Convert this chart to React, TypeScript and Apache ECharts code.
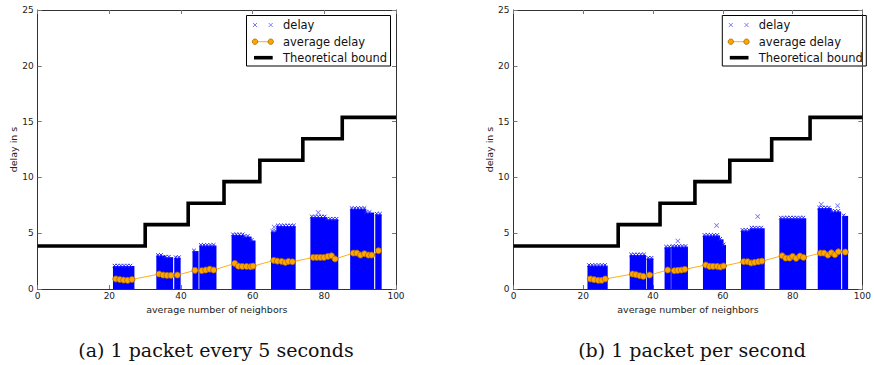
import React, { useEffect, useRef } from "react";
import * as echarts from "echarts";

// ---- axis settings ----
const X_MIN = 0;
const X_MAX = 100;
const X_STEP = 20;
const Y_MIN = 0;
const Y_MAX = 25;
const Y_STEP = 5;
const X_NAME = "average number of neighbors";
const Y_NAME = "delay in s";

// ---- theoretical bound (same for both panels) ----
const boundX = [0, 30, 42, 52, 62, 74, 85, 100];
const boundY = [3.85, 5.77, 7.69, 9.62, 11.54, 13.46, 15.38, 15.38];

// ---- delay clouds: [xStart, xEnd, maxDelay] ----
const leftDelayBlocks = [
  [21.2, 26.8, 2.05],
  [33.3, 35.5, 3.0],
  [35.5, 37.6, 2.85],
  [38.3, 39.7, 2.8],
  [43.4, 44.7, 3.4],
  [45.3, 49.7, 3.9],
  [54.3, 57.5, 4.85],
  [57.5, 59.5, 4.7],
  [59.5, 60.6, 4.35],
  [65.3, 66.8, 5.15],
  [66.8, 71.8, 5.65],
  [76.3, 80.5, 6.45],
  [80.5, 83.7, 6.25],
  [87.4, 91.5, 7.2],
  [91.5, 93.7, 6.85],
  [94.4, 95.8, 6.7],
];
const leftDelayOutliers = [
  [66.0, 5.55],
  [78.3, 6.85],
];

const rightDelayBlocks = [
  [21.4, 26.8, 2.1],
  [33.5, 37.8, 3.05],
  [38.4, 39.9, 2.75],
  [43.5, 44.9, 3.75],
  [45.4, 49.8, 3.8],
  [54.5, 59.0, 4.8],
  [59.0, 60.0, 4.45],
  [60.0, 60.7, 3.95],
  [65.4, 68.0, 5.25],
  [68.0, 71.8, 5.45],
  [76.4, 83.7, 6.35],
  [87.4, 91.0, 7.25],
  [91.0, 93.7, 6.95],
  [94.4, 95.7, 6.55],
];
const rightDelayOutliers = [
  [47.1, 4.3],
  [58.2, 5.7],
  [70.0, 6.5],
  [92.9, 7.45],
  [88.2, 7.6],
];

// ---- average delay ----
const leftAvgX = [21.8, 22.9, 24.0, 25.1, 26.3, 33.9, 35.0, 36.1, 37.2, 39.0, 43.9, 45.8, 46.9, 48.0, 49.1, 55.0, 56.0, 57.1, 58.3, 59.4, 60.1, 65.9, 66.9, 68.1, 69.1, 70.0, 71.1, 76.9, 77.9, 78.9, 79.9, 81.0, 82.0, 83.0, 88.1, 89.1, 90.1, 91.2, 92.3, 93.2, 95.1];
const leftAvgY = [0.9, 0.85, 0.8, 0.78, 0.85, 1.34, 1.25, 1.22, 1.22, 1.25, 1.67, 1.64, 1.7, 1.78, 1.7, 2.29, 2.05, 2.02, 2.02, 2.0, 2.05, 2.56, 2.5, 2.47, 2.38, 2.47, 2.44, 2.83, 2.83, 2.83, 2.83, 2.92, 2.98, 2.69, 3.22, 3.22, 3.04, 3.16, 3.04, 3.04, 3.43];

const rightAvgX = [22.0, 23.1, 24.3, 25.3, 26.3, 34.1, 35.1, 36.2, 37.2, 39.0, 44.2, 46.1, 47.1, 48.1, 49.1, 55.1, 56.2, 57.2, 58.4, 59.3, 60.2, 66.0, 67.1, 68.1, 69.1, 70.2, 71.2, 77.0, 78.0, 79.1, 80.0, 81.0, 82.1, 83.1, 88.0, 89.0, 90.1, 91.1, 92.1, 93.1, 95.1];
const rightAvgY = [0.9, 0.84, 0.78, 0.78, 0.9, 1.34, 1.28, 1.19, 1.13, 1.25, 1.7, 1.64, 1.67, 1.7, 1.76, 2.15, 2.03, 2.03, 2.03, 1.97, 2.06, 2.45, 2.45, 2.33, 2.39, 2.45, 2.5, 2.98, 2.77, 2.77, 2.92, 2.75, 2.95, 2.83, 3.22, 3.22, 3.04, 3.25, 3.07, 3.34, 3.31];

// ---- texts ----
const legendLabels = ["delay", "average delay", "Theoretical bound"];
const captions = ["(a) 1 packet every 5 seconds", "(b) 1 packet per second"];

const CROSS = "path://M0,1L1,0L5,4L9,0L10,1L6,5L10,9L9,10L5,6L1,10L0,9L4,5Z";
const SANS = "DejaVu Sans";
const TEXT_COLOR = "#222";

const GRID_TOP = 10;
const GRID_H = 279;
const GRID_W = 358.3;
const GRID_LEFTS = [37.7, 513.5];

function xAxis(gridIndex: number, position: string, labels: boolean) {
  return {
    type: "value",
    gridIndex,
    position,
    min: X_MIN,
    max: X_MAX,
    interval: X_STEP,
    name: labels ? X_NAME : "",
    nameLocation: "middle",
    nameGap: 13,
    nameTextStyle: { fontFamily: SANS, fontSize: 9.5, color: TEXT_COLOR },
    axisLine: { show: true, onZero: false, lineStyle: { color: "#333", width: 1 } },
    axisTick: { show: true, inside: true, length: 4, lineStyle: { color: "#777" } },
    axisLabel: { show: labels, fontFamily: SANS, fontSize: 9, color: TEXT_COLOR, margin: 2 },
    splitLine: { show: false },
  };
}

function yAxis(gridIndex: number, position: string, labels: boolean) {
  return {
    type: "value",
    gridIndex,
    position,
    min: Y_MIN,
    max: Y_MAX,
    interval: Y_STEP,
    name: labels ? Y_NAME : "",
    nameLocation: "middle",
    nameGap: 18,
    nameRotate: 90,
    nameTextStyle: { fontFamily: SANS, fontSize: 9.5, color: TEXT_COLOR },
    axisLine: { show: true, onZero: false, lineStyle: { color: "#333", width: 1 } },
    axisTick: { show: true, inside: true, length: 4, lineStyle: { color: "#777" } },
    axisLabel: { show: labels, fontFamily: SANS, fontSize: 9, color: TEXT_COLOR, margin: 4 },
    splitLine: { show: false },
  };
}

function cloudItem(_p: any, api: any) {
  const a = api.coord([api.value(0), api.value(2)]);
  const b = api.coord([api.value(1), 0]);
  const x0 = a[0] - 0.7;
  const x1 = b[0] + 0.7;
  const children: any[] = [
    {
      type: "rect",
      shape: { x: x0, y: a[1], width: x1 - x0, height: b[1] - a[1] },
      style: { fill: "#0000ff" },
    },
  ];
  // ragged top made of small "x" markers along the upper edge
  for (let cx = x0 + 1.5; cx <= x1 - 1.5; cx += 3.2) {
    const cy = a[1] - 0.5;
    children.push(
      { type: "line", shape: { x1: cx - 1.8, y1: cy - 1.8, x2: cx + 1.8, y2: cy + 1.8 }, style: { stroke: "#2a2aff", lineWidth: 1 } },
      { type: "line", shape: { x1: cx - 1.8, y1: cy + 1.8, x2: cx + 1.8, y2: cy - 1.8 }, style: { stroke: "#2a2aff", lineWidth: 1 } }
    );
  }
  return { type: "group", children };
}

function panelSeries(
  idx: number,
  blocks: number[][],
  outliers: number[][],
  avgX: number[],
  avgY: number[]
) {
  const xi = idx * 2;
  const yi = idx * 2;
  return [
    {
      type: "custom",
      name: "delay",
      xAxisIndex: xi,
      yAxisIndex: yi,
      data: blocks,
      encode: { x: [0, 1], y: 2 },
      silent: true,
      renderItem: cloudItem,
    },
    {
      type: "scatter",
      name: "delay",
      xAxisIndex: xi,
      yAxisIndex: yi,
      data: outliers,
      symbol: CROSS,
      symbolSize: 5,
      itemStyle: { color: "#3c3cff" },
      silent: true,
    },
    {
      type: "line",
      name: "average delay",
      xAxisIndex: xi,
      yAxisIndex: yi,
      data: avgX.map((x, i) => [x, avgY[i]]),
      symbol: "circle",
      symbolSize: 6,
      showAllSymbol: true,
      lineStyle: { color: "#ffae1a", width: 1 },
      itemStyle: { color: "#ffa500", borderColor: "#a86a00", borderWidth: 0.8 },
      z: 4,
      silent: true,
    },
    {
      type: "line",
      name: "Theoretical bound",
      xAxisIndex: xi,
      yAxisIndex: yi,
      data: boundX.map((x, i) => [x, boundY[i]]),
      step: "end",
      symbol: "none",
      lineStyle: { color: "#000", width: 3.6, cap: "butt", join: "miter" },
      z: 5,
      silent: true,
    },
  ];
}

function legendGraphic(dx: number) {
  const bx = 246.5 + dx;
  const by = 15.5;
  const tx = 283 + dx;
  const m1 = 255 + dx;
  const m2 = 270.7 + dx;
  const rows = [25, 41.7, 57.7];
  const font = `11.5px "${SANS}"`;
  const crossAt = (cx: number, cy: number) => [
    { type: "line", shape: { x1: cx - 2, y1: cy - 2, x2: cx + 2, y2: cy + 2 }, style: { stroke: "#7a7aff", lineWidth: 1 } },
    { type: "line", shape: { x1: cx - 2, y1: cy + 2, x2: cx + 2, y2: cy - 2 }, style: { stroke: "#7a7aff", lineWidth: 1 } },
  ];
  return {
    type: "group",
    z: 100,
    children: [
      { type: "rect", shape: { x: bx, y: by, width: 144, height: 50.5 }, style: { fill: "#fff", stroke: "#000", lineWidth: 1 } },
      ...crossAt(m1, rows[0]),
      ...crossAt(m2, rows[0]),
      { type: "line", shape: { x1: m1, y1: rows[1], x2: m2, y2: rows[1] }, style: { stroke: "#ffae1a", lineWidth: 1 } },
      { type: "circle", shape: { cx: m1, cy: rows[1], r: 2.7 }, style: { fill: "#ffa500", stroke: "#a86a00", lineWidth: 0.8 } },
      { type: "circle", shape: { cx: m2, cy: rows[1], r: 2.7 }, style: { fill: "#ffa500", stroke: "#a86a00", lineWidth: 0.8 } },
      { type: "line", shape: { x1: 254 + dx, y1: rows[2], x2: 272.7 + dx, y2: rows[2] }, style: { stroke: "#000", lineWidth: 3.6 } },
      ...legendLabels.map((t, i) => ({
        type: "text",
        x: tx,
        y: rows[i],
        style: { text: t, font, fill: "#111", textAlign: "left", textVerticalAlign: "middle" },
      })),
    ],
  };
}

export default function App() {
  const ref = useRef<HTMLDivElement>(null);
  useEffect(() => {
    const chart = echarts.init(ref.current!, null, { renderer: "svg" });
    const option: any = {
      animation: false,
      backgroundColor: "#fff",
      grid: GRID_LEFTS.map((l) => ({ left: l, top: GRID_TOP, width: GRID_W, height: GRID_H, containLabel: false })),
      xAxis: [xAxis(0, "bottom", true), xAxis(0, "top", false), xAxis(1, "bottom", true), xAxis(1, "top", false)],
      yAxis: [yAxis(0, "left", true), yAxis(0, "right", false), yAxis(1, "left", true), yAxis(1, "right", false)],
      series: [
        ...panelSeries(0, leftDelayBlocks, leftDelayOutliers, leftAvgX, leftAvgY),
        ...panelSeries(1, rightDelayBlocks, rightDelayOutliers, rightAvgX, rightAvgY),
      ],
      graphic: [
        legendGraphic(0),
        legendGraphic(GRID_LEFTS[1] - GRID_LEFTS[0]),
        {
          type: "text",
          x: 216,
          y: 350,
          style: { text: captions[0], font: '19px "DejaVu Serif"', fill: "#111", textAlign: "center", textVerticalAlign: "middle" },
        },
        {
          type: "text",
          x: 692,
          y: 350,
          style: { text: captions[1], font: '19px "DejaVu Serif"', fill: "#111", textAlign: "center", textVerticalAlign: "middle" },
        },
      ],
    };
    chart.setOption(option);
    return () => chart.dispose();
  }, []);
  return (
    <div
      ref={ref}
      style={{ position: "absolute", left: 0, top: 0, width: 874, height: 365 }}
    />
  );
}
